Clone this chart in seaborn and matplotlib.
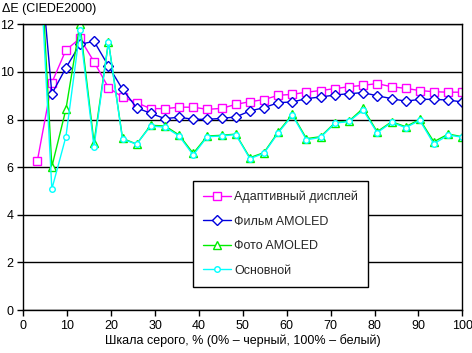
import matplotlib
matplotlib.use("Agg")
import matplotlib.pyplot as plt
import seaborn as sns
import pandas as pd

sns.set_theme(style="white")
plt.rcParams['font.family'] = ['Liberation Sans', 'DejaVu Sans']

x_vals = [3.2, 6.5, 9.7, 12.9, 16.1, 19.4, 22.6, 25.8, 29.0, 32.3, 35.5, 38.7, 41.9,
          45.2, 48.4, 51.6, 54.8, 58.1, 61.3, 64.5, 67.7, 71.0, 74.2, 77.4, 80.6,
          83.9, 87.1, 90.3, 93.5, 96.8, 100.0]

adaptive = [6.27, 9.55, 10.92, 11.41, 10.43, 9.34, 8.94, 8.71, 8.46, 8.46, 8.52, 8.52, 8.43,
            8.47, 8.64, 8.75, 8.84, 9.02, 9.06, 9.15, 9.22, 9.30, 9.38, 9.44, 9.51,
            9.38, 9.31, 9.22, 9.17, 9.15, 9.15]
film = [16.0, 9.08, 10.17, 11.16, 11.29, 10.25, 9.27, 8.50, 8.26, 8.04, 8.10, 8.01, 8.01,
        8.05, 8.11, 8.36, 8.50, 8.71, 8.74, 8.88, 8.95, 9.03, 9.09, 9.13, 9.00,
        8.88, 8.77, 8.85, 8.85, 8.82, 8.74]
photo = [17.4, 6.02, 8.43, 12.02, 7.03, 11.27, 7.21, 6.97, 7.76, 7.73, 7.35, 6.58, 7.31,
         7.34, 7.39, 6.40, 6.61, 7.49, 8.22, 7.20, 7.28, 7.87, 7.94, 8.47, 7.49,
         7.91, 7.70, 8.01, 7.07, 7.39, 7.28]
basic = [16.7, 5.08, 7.28, 11.76, 6.86, 11.26, 7.17, 6.97, 7.73, 7.68, 7.31, 6.51, 7.28,
         7.31, 7.37, 6.36, 6.58, 7.45, 8.18, 7.15, 7.25, 7.85, 7.92, 8.40, 7.45,
         7.88, 7.66, 7.97, 6.98, 7.35, 7.26]

series_names = ["Адаптивный дисплей", "Фильм AMOLED", "Фото AMOLED", "Основной"]
series_vals = [adaptive, film, photo, basic]
colors = ["#FF00FF", "#0000DD", "#00EE00", "#00FFFF"]
markers = ["s", "D", "^", "o"]
msizes = [5.5, 5.0, 5.5, 4.0]

x_ticks = [0, 10, 20, 30, 40, 50, 60, 70, 80, 90, 100]
y_ticks = [0, 2, 4, 6, 8, 10, 12]

fig = plt.figure(figsize=(4.72, 3.53), dpi=100)
ax = fig.add_axes([0.0494, 0.1218, 0.9301, 0.8092])

for name, vals, c, m, ms in zip(series_names, series_vals, colors, markers, msizes):
    df = pd.DataFrame({"x": x_vals, "y": vals})
    sns.lineplot(data=df, x="x", y="y", ax=ax, color=c, marker=m, markersize=ms,
                 markerfacecolor="white", markeredgecolor=c, markeredgewidth=1.0,
                 linewidth=1.0, label=name, sort=False)

ax.set_xlim(0, 100)
ax.set_ylim(0, 12)
ax.set_xticks(x_ticks)
ax.set_yticks(y_ticks)
ax.set_xticklabels([str(t) for t in x_ticks])
ax.set_yticklabels([str(t) for t in y_ticks])
ax.yaxis.grid(True, color="black", linewidth=1.0)
ax.xaxis.grid(False)
ax.set_axisbelow(True)
for s in ax.spines.values():
    s.set_color("black")
    s.set_linewidth(1.0)
ax.tick_params(axis="both", which="major", direction="out", length=4, width=1.0,
               color="black", labelsize=9, labelcolor="black", pad=3,
               bottom=True, left=True)
ax.set_xlabel("Шкала серого, % (0% – черный, 100% – белый)", fontsize=9, color="black", labelpad=2)
ax.set_ylabel("")
fig.text(0.004, 0.975, "ΔE (CIEDE2000)", fontsize=9, color="black", ha="left", va="center")

leg = ax.legend(loc="lower left", bbox_to_anchor=(0.387, 0.082), fontsize=9,
                frameon=True, fancybox=False, shadow=False, framealpha=1.0,
                edgecolor="black", facecolor="white", borderpad=0.8,
                labelspacing=1.0, handlelength=2.2, handletextpad=0.3,
                borderaxespad=0.0)
leg.get_frame().set_linewidth(1.0)

fig.savefig("out.png", dpi=100, facecolor="white")
